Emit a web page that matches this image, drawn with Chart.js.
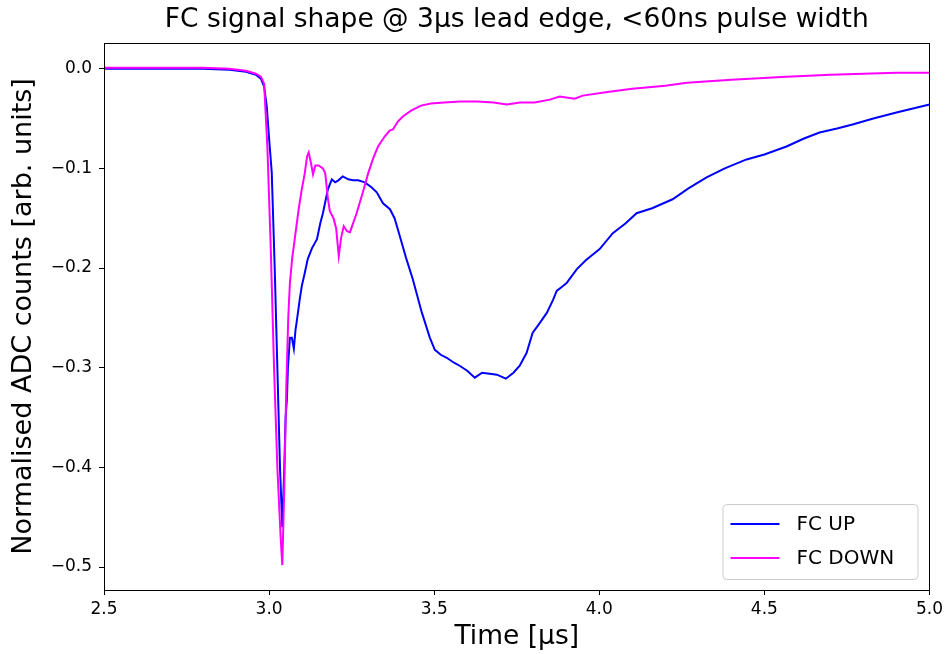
<!DOCTYPE html>
<html>
<head>
<meta charset="utf-8">
<script src="https://cdn.jsdelivr.net/npm/chart.js@4.4.0/dist/chart.umd.min.js"></script>
<style>
  html, body { margin: 0; padding: 0; background: #fff; }
  #wrap { width: 947px; height: 654px; }
</style>
</head>
<body>
<div id="wrap"><canvas id="fcChart"></canvas></div>
<script>
// FC UP: time [us] and normalised counts
const timeUp = [2.50, 2.60, 2.70, 2.80, 2.88, 2.93, 2.96, 2.975, 2.985, 2.993, 3.000, 3.008, 3.017, 3.025,
  3.033, 3.040, 3.046, 3.050, 3.054, 3.057, 3.063, 3.069, 3.075, 3.080, 3.084, 3.093, 3.099, 3.108,
  3.117, 3.130, 3.145, 3.155, 3.163, 3.178, 3.190, 3.200, 3.210, 3.223, 3.240, 3.254, 3.270, 3.290,
  3.310, 3.326, 3.345, 3.366, 3.380, 3.396, 3.415, 3.435, 3.462, 3.487, 3.502, 3.520, 3.538, 3.560,
  3.577, 3.600, 3.623, 3.645, 3.668, 3.690, 3.717, 3.740, 3.759, 3.780, 3.798, 3.820, 3.841, 3.860,
  3.871, 3.890, 3.901, 3.932, 3.960, 4.001, 4.041, 4.080, 4.113, 4.160, 4.222, 4.270, 4.325, 4.380,
  4.446, 4.500, 4.567, 4.620, 4.667, 4.720, 4.767, 4.830, 4.900, 4.950, 5.000];
const fcUp = [0.000, 0.000, 0.000, 0.000, -0.001, -0.003, -0.006, -0.010, -0.018, -0.038, -0.070, -0.104, -0.200, -0.300,
  -0.400, -0.460, -0.400, -0.350, -0.331, -0.300, -0.270, -0.270, -0.281, -0.262, -0.253, -0.231, -0.218, -0.205,
  -0.191, -0.180, -0.171, -0.155, -0.145, -0.121, -0.111, -0.114, -0.112, -0.108, -0.111, -0.112, -0.112, -0.114,
  -0.119, -0.124, -0.135, -0.141, -0.150, -0.168, -0.190, -0.211, -0.244, -0.270, -0.282, -0.287, -0.290, -0.295,
  -0.298, -0.303, -0.310, -0.305, -0.306, -0.307, -0.311, -0.305, -0.298, -0.285, -0.265, -0.255, -0.245, -0.232,
  -0.223, -0.218, -0.215, -0.201, -0.192, -0.181, -0.165, -0.155, -0.145, -0.140, -0.131, -0.120, -0.109, -0.100,
  -0.091, -0.086, -0.078, -0.070, -0.064, -0.060, -0.056, -0.050, -0.044, -0.040, -0.036];

// FC DOWN
const timeDown = [2.50, 2.60, 2.70, 2.80, 2.88, 2.93, 2.96, 2.975, 2.985, 2.995, 3.005, 3.015, 3.025, 3.035,
  3.040, 3.046, 3.052, 3.058, 3.063, 3.070, 3.080, 3.090, 3.099, 3.108, 3.115, 3.120, 3.127, 3.133,
  3.140, 3.150, 3.163, 3.170, 3.178, 3.184, 3.195, 3.203, 3.211, 3.218, 3.226, 3.236, 3.245, 3.265,
  3.284, 3.300, 3.314, 3.330, 3.350, 3.365, 3.375, 3.390, 3.405, 3.430, 3.460, 3.490, 3.530, 3.580,
  3.630, 3.680, 3.720, 3.760, 3.804, 3.850, 3.880, 3.925, 3.950, 4.030, 4.100, 4.200, 4.265, 4.400,
  4.567, 4.700, 4.800, 4.900, 5.000];
const fcDown = [0.001, 0.001, 0.001, 0.001, 0.000, -0.002, -0.005, -0.008, -0.015, -0.080, -0.180, -0.300, -0.400, -0.470,
  -0.498, -0.420, -0.320, -0.250, -0.215, -0.190, -0.165, -0.140, -0.121, -0.105, -0.088, -0.084, -0.095, -0.106,
  -0.097, -0.097, -0.100, -0.105, -0.130, -0.143, -0.150, -0.160, -0.188, -0.170, -0.158, -0.163, -0.164, -0.145,
  -0.124, -0.105, -0.091, -0.078, -0.068, -0.062, -0.061, -0.053, -0.048, -0.042, -0.037, -0.035, -0.034, -0.033,
  -0.033, -0.034, -0.036, -0.034, -0.034, -0.031, -0.028, -0.030, -0.027, -0.023, -0.020, -0.017, -0.014, -0.011,
  -0.008, -0.006, -0.005, -0.004, -0.004];

const seriesNames = ["FC UP", "FC DOWN"];
const seriesColors = ["#0000ff", "#ff00ff"];
const xTicks = [2.5, 3.0, 3.5, 4.0, 4.5, 5.0];
const yTicks = [-0.5, -0.4, -0.3, -0.2, -0.1, 0.0];

const toPoints = (xs, ys) => xs.map((x, i) => ({ x: x, y: ys[i] }));
const fmt = (v) => v.toFixed(1).replace("-", "\u2212");

// frame round the plot, like matplotlib spines
const frame = {
  id: "frame",
  afterDraw(chart) {
    const a = chart.chartArea, ctx = chart.ctx;
    ctx.save();
    ctx.strokeStyle = "#000";
    ctx.lineWidth = 1;
    ctx.strokeRect(Math.round(a.left) + 0.5, Math.round(a.top) + 0.5,
      Math.round(a.right - a.left), Math.round(a.bottom - a.top));
    ctx.restore();
  }
};

// legend box in the lower right corner of the plot
const boxLegend = {
  id: "boxLegend",
  afterDraw(chart) {
    const a = chart.chartArea, ctx = chart.ctx;
    const w = 195, h = 75;
    const x0 = a.right - 12 - w, y0 = a.bottom - 11 - h;
    ctx.save();
    ctx.beginPath();
    ctx.roundRect(x0 + 0.5, y0 + 0.5, w, h, 4);
    ctx.fillStyle = "rgba(255,255,255,0.8)";
    ctx.fill();
    ctx.strokeStyle = "#cccccc";
    ctx.lineWidth = 1;
    ctx.stroke();
    ctx.font = "20px 'DejaVu Sans'";
    ctx.textBaseline = "middle";
    seriesNames.forEach((name, i) => {
      const y = y0 + 20 + i * 34;
      ctx.beginPath();
      ctx.moveTo(x0 + 8, y);
      ctx.lineTo(x0 + 57, y);
      ctx.strokeStyle = seriesColors[i];
      ctx.lineWidth = 2;
      ctx.stroke();
      ctx.fillStyle = "#000";
      ctx.fillText(name, x0 + 74, y + 1);
    });
    ctx.restore();
  }
};

new Chart(document.getElementById("fcChart"), {
  type: "line",
  data: {
    datasets: [
      {
        label: seriesNames[0],
        data: toPoints(timeUp, fcUp),
        borderColor: seriesColors[0],
        borderWidth: 2,
        pointRadius: 0,
        tension: 0,
        order: 1,
      },
      {
        label: seriesNames[1],
        data: toPoints(timeDown, fcDown),
        borderColor: seriesColors[1],
        borderWidth: 2,
        pointRadius: 0,
        tension: 0,
        order: 0,
      },
    ],
  },
  options: {
    responsive: true,
    maintainAspectRatio: false,
    animation: false,
    layout: { padding: { left: 0, right: 17, top: 0, bottom: 0 } },
    plugins: {
      legend: { display: false },
      tooltip: { enabled: false },
      title: {
        display: true,
        fullSize: false,
        text: "FC signal shape @ 3\u03bcs lead edge, <60ns pulse width",
        color: "#000",
        font: { family: "'DejaVu Sans'", size: 26.5, weight: "normal" },
        padding: { top: 4, bottom: 7 },
      },
    },
    scales: {
      x: {
        type: "linear",
        min: 2.5,
        max: 5.0,
        afterFit: (s) => { s.height = 64; },
        afterBuildTicks: (s) => { s.ticks = xTicks.map((v) => ({ value: v })); },
        grid: { drawOnChartArea: false, drawTicks: true, tickLength: 5, color: "#000" },
        border: { display: false },
        ticks: {
          color: "#000",
          padding: 4,
          maxRotation: 0,
          font: { family: "'DejaVu Sans'", size: 17 },
          callback: (v) => fmt(v),
        },
        title: {
          display: true,
          text: "Time [\u03bcs]",
          color: "#000",
          font: { family: "'DejaVu Sans'", size: 26.5 },
          padding: { top: 0, bottom: 1 },
        },
      },
      y: {
        type: "linear",
        min: -0.523,
        max: 0.026,
        afterFit: (s) => { s.width = 104; },
        afterBuildTicks: (s) => { s.ticks = yTicks.map((v) => ({ value: v })); },
        grid: { drawOnChartArea: false, drawTicks: true, tickLength: 5, color: "#000" },
        border: { display: false },
        ticks: {
          color: "#000",
          padding: 7,
          font: { family: "'DejaVu Sans'", size: 17 },
          callback: (v) => fmt(v),
        },
        title: {
          display: true,
          text: "Normalised ADC counts [arb. units]",
          color: "#000",
          font: { family: "'DejaVu Sans'", size: 27 },
          padding: { top: 8, bottom: 0 },
        },
      },
    },
  },
  plugins: [frame, boxLegend],
});
</script>
</body>
</html>
